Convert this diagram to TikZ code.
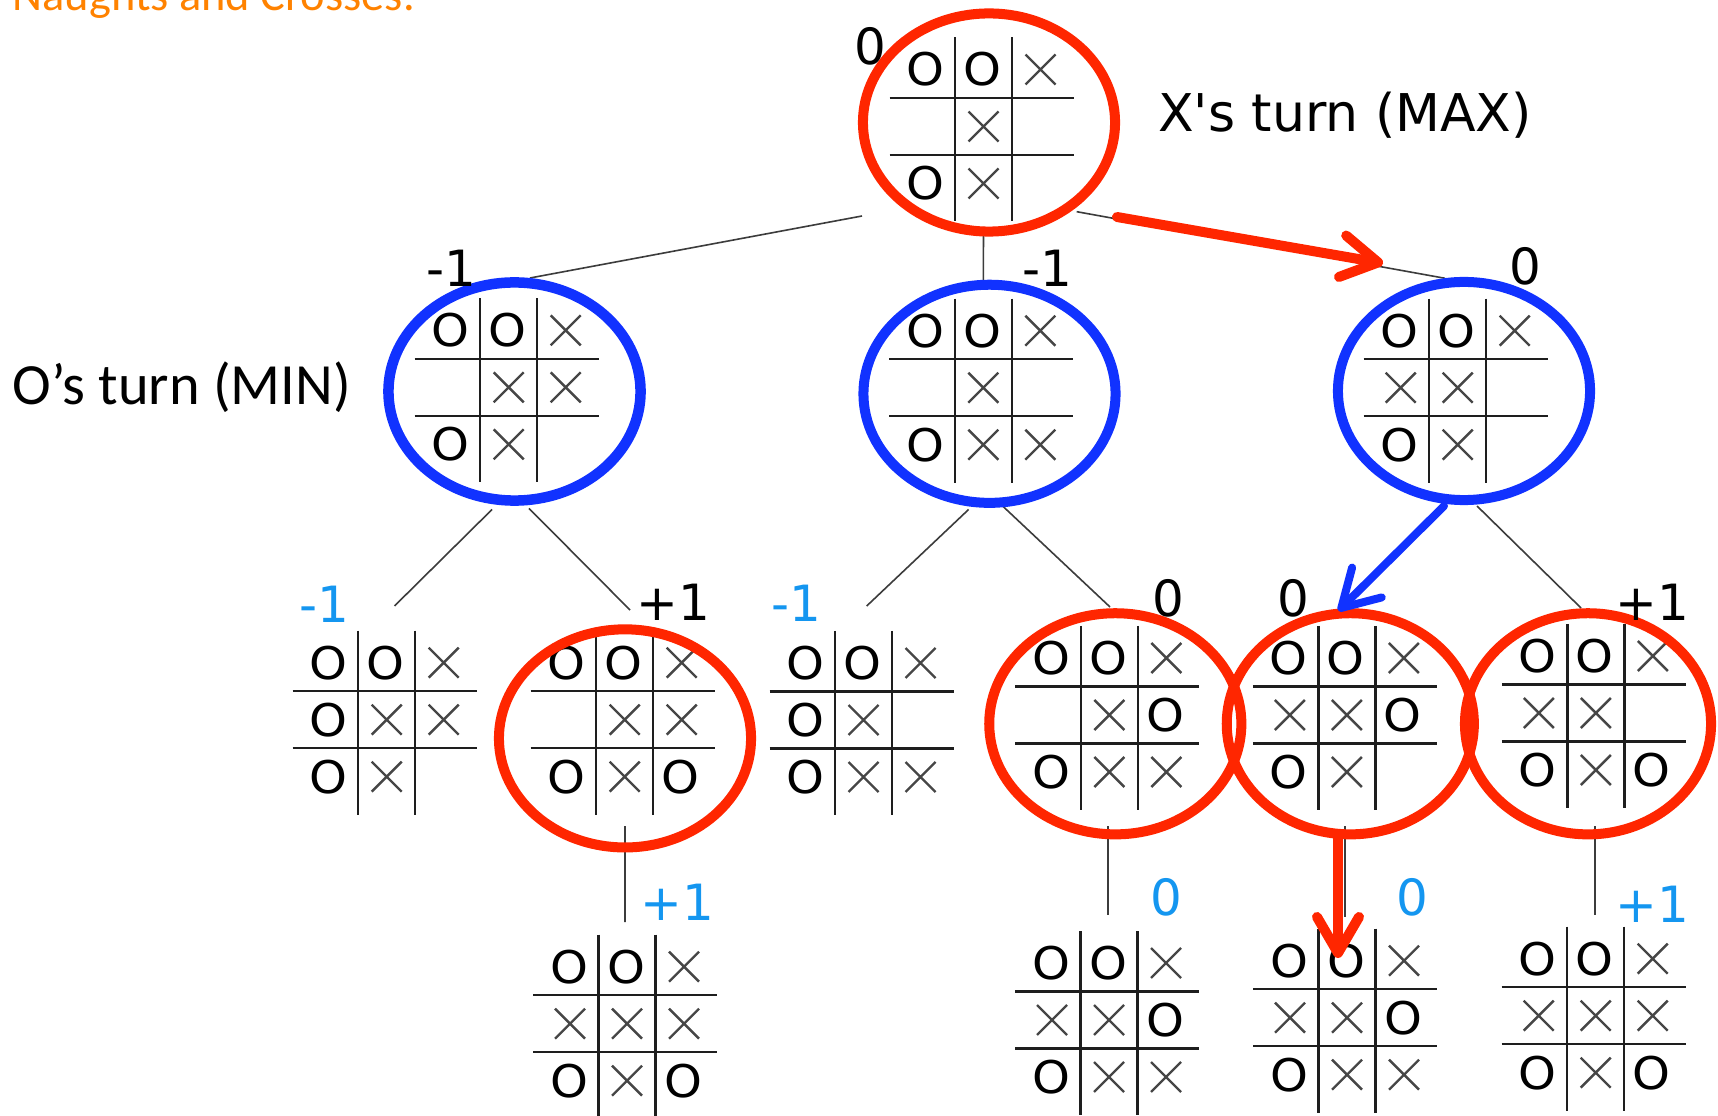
\documentclass[tikz,border=0pt]{standalone}
\usepackage{fontspec}
\usetikzlibrary{shapes.geometric,arrows.meta,calc}
\newfontfamily\vfont{DejaVu Sans}[Ligatures=TeXOff]
\newfontfamily\ofont{DejaVu Sans}[FakeStretch=1.07]
\newfontfamily\cfont{Carlito}
\definecolor{ringred}{RGB}{255,38,0}
\definecolor{ringblue}{RGB}{17,50,255}
\definecolor{valblue}{RGB}{20,150,240}
\definecolor{titleorange}{RGB}{255,130,0}
\definecolor{gridc}{RGB}{30,30,30}
\definecolor{xc}{RGB}{70,70,70}
\definecolor{connc}{RGB}{60,60,60}
\tikzset{
 gridline/.style={draw=gridc, line width=0.024cm},
 xmark/.style={draw=xc, line width=0.024cm},
 omark/.style={inner sep=0pt, font=\ofont\fontsize{12.8}{13}\selectfont, text=black},
 ring/.style={ellipse, draw, line width=0.1cm, minimum width=2.52cm, minimum height=2.18cm, inner sep=0pt},
 conn/.style={draw=connc, line width=0.016cm},
 val/.style={inner sep=0pt, font=\vfont\fontsize{14.2}{15}\selectfont},
 bigarrow/.style={line width=0.1cm, line cap=round, -{Straight Barb[length=0.36cm,width=0.42cm,line cap=round,line join=round]}},
}
\def\mkO{O}\def\mkX{X}
\newcommand\tboard[3]{%
 \coordinate (#1) at #2;
 \begin{scope}[shift={#2}]
  \draw[gridline] (-94,-28.5) -- (90,-28.5) (-94,28.5) -- (90,28.5)
     (-28.5,-89) -- (-28.5,95) (28.5,-89) -- (28.5,95);
  \foreach \m [count=\i from 0] in {#3} {
   \pgfmathsetmacro\xx{(mod(\i,3)-1)*57}
   \pgfmathsetmacro\yy{(div(\i,3)-1)*57}
   \ifx\m\mkO \node[omark] at (\xx-1,\yy) {O};\fi
   \ifx\m\mkX \draw[xmark] (\xx-15,\yy-15) -- (\xx+15,\yy+15) (\xx-15,\yy+15) -- (\xx+15,\yy-15);\fi
  }
 \end{scope}}
\begin{document}
\begin{tikzpicture}[x=0.01cm,y=-0.01cm]
\path[use as bounding box, fill=white] (0,0) rectangle (1718,1116);
% texts
\node[anchor=base west, inner sep=0pt, font=\cfont\fontsize{13.2}{14}\selectfont, text=titleorange] (title) at (12,11) {Naughts and Crosses.};
\node[anchor=base, inner sep=0pt, font=\vfont\fontsize{14.8}{16}\selectfont] (maxlab) at (1345,131.5) {X's turn (MAX)};
\node[anchor=base west, inner sep=0pt, font=\cfont\fontsize{16.6}{18}\selectfont] (minlab) at (12,405) {O’s turn (MIN)};
% boards
\tboard{bRoot}{(983.5,126.5)}{O,O,X,-,X,-,O,X,-}
\tboard{bL}{(508.7,387.3)}{O,O,X,-,X,X,O,X,-}
\tboard{bM}{(983.3,387.7)}{O,O,X,-,X,-,O,X,X}
\tboard{bR}{(1457.7,387.7)}{O,O,X,X,X,-,O,X,-}
\tboard{bA}{(386.7,719.7)}{O,O,X,O,X,X,O,X,-}
\tboard{bB}{(624.7,719.7)}{O,O,X,-,X,X,O,X,O}
\tboard{bC}{(863.5,720)}{O,O,X,O,X,-,O,X,X}
\tboard{bD}{(1109.3,715)}{O,O,X,-,X,O,O,X,X}
\tboard{bE}{(1346.8,715)}{O,O,X,X,X,O,O,X,-}
\tboard{bF}{(1595.8,713)}{O,O,X,X,X,-,O,X,O}
\tboard{bBp}{(627,1023.7)}{O,O,X,X,X,X,O,X,O}
\tboard{bDp}{(1109,1020)}{O,O,X,X,X,O,O,X,X}
\tboard{bEp}{(1347,1017.7)}{O,O,X,X,X,O,O,X,X}
\tboard{bFp}{(1595.7,1015.7)}{O,O,X,X,X,X,O,X,O}
% connectors
\draw[conn] ($(bL)+(21.3,-109.3)$) -- ($(bRoot)+(-121.5,89.5)$);
\draw[conn] ($(bRoot)+(0,100.5)$) -- ($(bM)+(0,-97.7)$);
\draw[conn] ($(bRoot)+(93.2,85.2)$) -- ($(bR)+(-12.7,-109.4)$);
\draw[conn] ($(bL)+(-16.7,122.2)$) -- ($(bA)+(7.8,-113.7)$);
\draw[conn] ($(bL)+(20.3,121.1)$) -- ($(bB)+(5.3,-109.7)$);
\draw[conn] ($(bM)+(-14.7,121.8)$) -- ($(bC)+(3.2,-114)$);
\draw[conn] ($(bM)+(19.3,118.3)$) -- ($(bD)+(0.7,-108)$);
\draw[conn] ($(bR)+(19.3,118.3)$) -- ($(bF)+(-14.8,-105)$);
\draw[conn] ($(bB)+(0.3,106.3)$) -- ($(bBp)+(-2,-101.7)$);
\draw[conn] ($(bD)+(-1.3,111)$) -- ($(bDp)+(-1,-105)$);
\draw[conn] ($(bE)+(-1.8,111)$) -- ($(bEp)+(-2,-100.7)$);
\draw[conn] ($(bF)+(-0.8,113)$) -- ($(bFp)+(-0.7,-100.7)$);
% rings
\node[ring, draw=ringred] (eRoot) at (989,122.5) {};
\node[ring, draw=ringblue, line width=0.105cm] (eL) at (514.5,391.5) {};
\node[ring, draw=ringblue] (eM) at (989.5,393.8) {};
\node[ring, draw=ringblue] (eR) at (1464,391) {};
\node[ring, draw=ringred] (eB) at (625,738.4) {};
\node[ring, draw=ringred, minimum height=2.21cm] (eD) at (1115.3,723.8) {};
\node[ring, draw=ringred, minimum width=2.47cm, minimum height=2.21cm] (eE) at (1350.3,723.8) {};
\node[ring, draw=ringred, minimum width=2.46cm, minimum height=2.21cm] (eF) at (1588,723.8) {};
% arrows
\draw[bigarrow, ringred] ($(eRoot.center)+(128,94.5)$) -- ($(eR.center)+(-81,-127.7)$);
\draw[bigarrow, ringblue, line width=0.08cm] ($(eR.center)+(-20,115)$) -- ($(eE.center)+(-11.8,-113.1)$);
\draw[bigarrow, ringred] ($(eE.center)+(-12.3,111.2)$) -- ($(bEp)+(-9,-59.7)$);
% values
\node[val] (vRoot) at (870,46) {0};
\node[val] (vL) at (451,268) {-1};
\node[val] (vM) at (1047,268) {-1};
\node[val] (vR) at (1525,266.5) {0};
\node[val, text=valblue] (vA) at (324,604) {-1};
\node[val] (vB) at (673,602.5) {+1};
\node[val, text=valblue] (vC) at (796,603) {-1};
\node[val] (vD) at (1168,598) {0};
\node[val] (vE) at (1293,598) {0};
\node[val] (vF) at (1652,602) {+1};
\node[val, text=valblue] (vBp) at (677,902.5) {+1};
\node[val, text=valblue] (vDp) at (1166,897.5) {0};
\node[val, text=valblue] (vEp) at (1412,897.5) {0};
\node[val, text=valblue] (vFp) at (1652,904) {+1};
\end{tikzpicture}
\end{document}
